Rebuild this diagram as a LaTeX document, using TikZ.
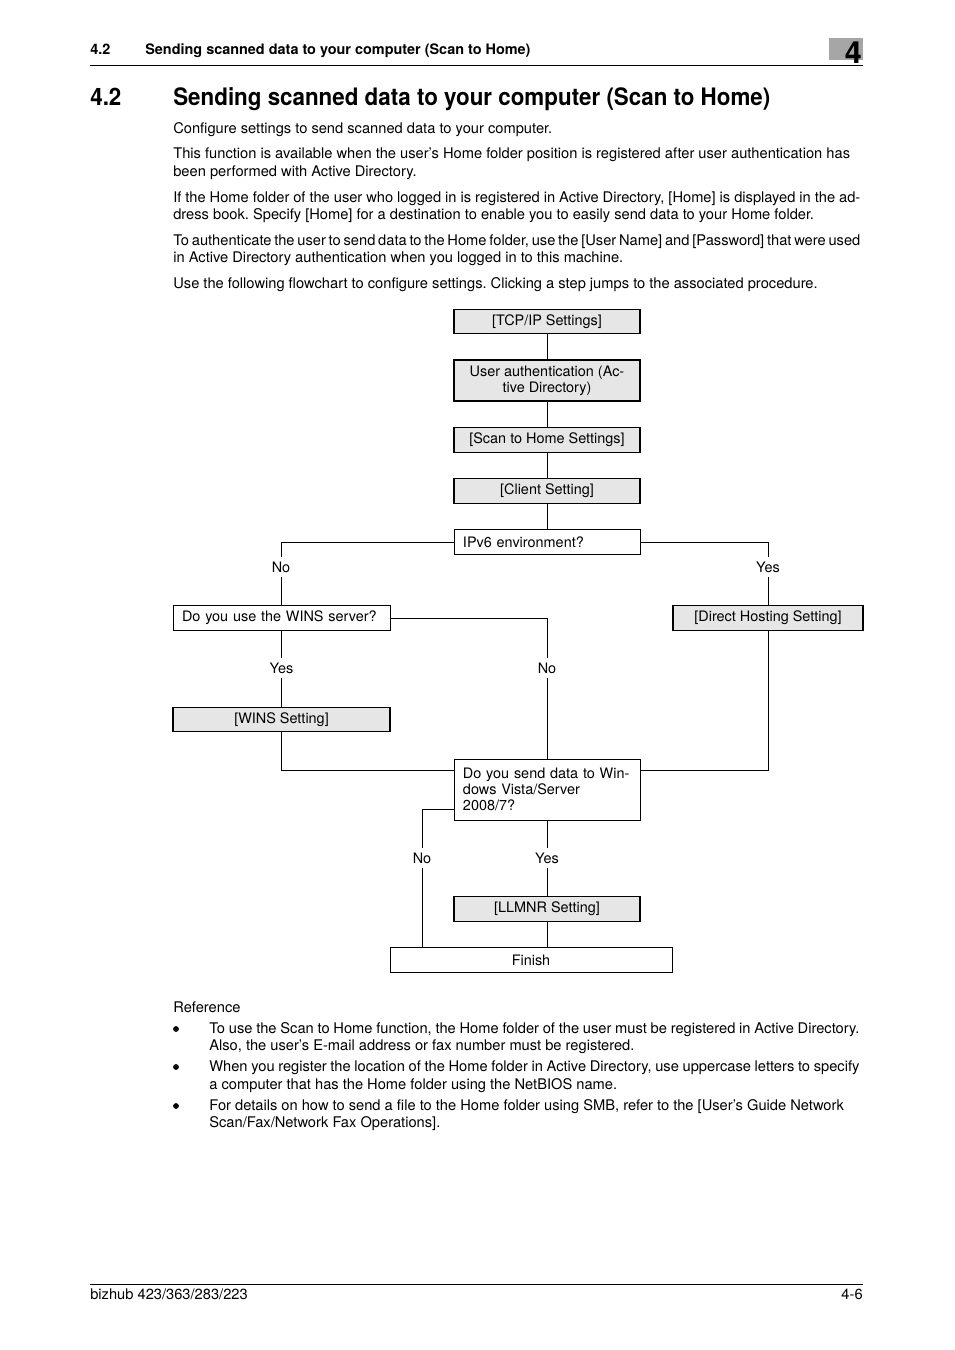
\documentclass[tikz,border=0pt]{standalone}
\usepackage{fontspec}
\setmainfont{TeX Gyre Heros}
\newfontfamily\condfont[FakeStretch=0.93]{TeX Gyre Heros}
\usetikzlibrary{positioning}
\definecolor{boxgray}{RGB}{230,230,230}
\definecolor{tabgray}{RGB}{166,166,166}
\newdimen\pxl \pxl=0.6237pt
\newcommand{\flowsize}{\fontsize{9}{10}\selectfont}
\newcommand{\bodysize}{\fontsize{9.15}{11}\selectfont}
\newcommand{\fullline}[1]{\makebox[428.5pt][s]{#1}}
\newcommand{\fullitem}[1]{\makebox[405.5pt][s]{#1}}
\frenchspacing

\tikzset{
  setting/.style={draw, line width=0.9pt, fill=boxgray, inner sep=0pt, minimum width=116pt, minimum height=15.3pt, font=\flowsize, align=center},
  question/.style={draw, line width=0.5pt, fill=white, inner xsep=5.6pt, inner ysep=0pt, text width=104.8pt, minimum height=15.3pt, font=\flowsize, align=left},
  answer/.style={inner sep=0pt, minimum height=11.9pt, font=\flowsize},
  link/.style={line width=0.5pt},
  bodyline/.style={anchor=base west, inner sep=0pt, font=\bodysize},
  dot/.style={circle, fill, inner sep=0pt, minimum size=3.6pt},
}

\begin{document}
\begin{tikzpicture}[x=\pxl, y=-\pxl]
            \useasboundingbox[fill=white] (0,0) rectangle (954,1350);
            % page head
            \fill[tabgray] (829,38) rectangle (863,60);
            \node[anchor=base east, inner sep=0pt, font=\bfseries\fontsize{19}{19}\selectfont] (chapno) at (862,64) {4};
            \node[anchor=base west, inner sep=0pt, font=\bfseries\fontsize{9}{11}\selectfont] (headno) at (90,55) {4.2};
            \node[anchor=base west, inner sep=0pt, font=\bfseries\fontsize{9}{11}\selectfont] (headtitle) at (145,55) {Sending scanned data to your computer (Scan to Home)};
            \draw[line width=0.6pt] (90,65) -- (863,65);
            \node[anchor=base west, inner sep=0pt, font=\condfont\bfseries\fontsize{15}{18}\selectfont] (secno) at (90,106) {4.2};
            \node[anchor=base west, inner sep=0pt, font=\condfont\bfseries\fontsize{15}{18}\selectfont] (sectitle) at (173,106) {Sending scanned data to your computer (Scan to Home)};
            % intro text
            \node[bodyline] (p1) at (173,134) {Configure settings to send scanned data to your computer.};
            \node[bodyline] (p2a) at (173,159) {This function is available when the user's Home folder position is registered after user authentication has};
            \node[bodyline] (p2b) at (173,177) {been performed with Active Directory.};
            \node[bodyline] (p3a) at (173,203) {\fullline{If the Home folder of the user who logged in is registered in Active Directory, [Home] is displayed in the ad-}};
            \node[bodyline] (p3b) at (173,220) {dress book. Specify [Home] for a destination to enable you to easily send data to your Home folder.};
            \node[bodyline] (p4a) at (173,246) {\fullline{To authenticate the user to send data to the Home folder, use the [User Name] and [Password] that were used}};
            \node[bodyline] (p4b) at (173,263) {in Active Directory authentication when you logged in to this machine.};
            \node[bodyline] (p5) at (173,289) {Use the following flowchart to configure settings. Clicking a step jumps to the associated procedure.};
            % flowchart
            \node[setting] (tcp) at (547,321.5) {[TCP/IP Settings]};
            \node[setting, minimum height=25.6pt] (auth) at (547,380.5) {User authentication (Ac-\\tive Directory)};
            \node[setting] (scanhome) at (547,440) {[Scan to Home Settings]};
            \node[setting] (client) at (547,491) {[Client Setting]};
            \node[question] (ipv6) at (547,542) {IPv6 environment?};
            \node[question, text width=124.1pt] (winsq) at (281.5,618) {Do you use the WINS server?};
            \node[setting, minimum width=118.5pt] (direct) at (768,618) {[Direct Hosting Setting]};
            \node[setting, minimum width=135.3pt] (winset) at (281.5,719.5) {[WINS Setting]};
            \node[question, minimum height=38pt] (win) at (547,789.5) {Do you send data to Win-\\dows Vista/Server\\2008/7?};
            \node[setting] (llmnr) at (547,909) {[LLMNR Setting]};
            \node[question, align=center, text width=164.7pt] (finish) at (531,960) {Finish};
            \node[answer] (noA) at (281,567) {No};
            \node[answer] (yesA) at (768,567) {Yes};
            \node[answer] (noB) at (547,668) {No};
            \node[answer] (yesB) at (281.5,668) {Yes};
            \node[answer] (noC) at (422,858) {No};
            \node[answer] (yesC) at (547,858) {Yes};
            \draw[link] (tcp) -- (auth);
            \draw[link] (auth) -- (scanhome);
            \draw[link] (scanhome) -- (client);
            \draw[link] (client) -- (ipv6);
            \draw[link] (ipv6.west) -| (noA.north);
            \draw[link] (noA.south) -- (noA.south |- winsq.north);
            \draw[link] (ipv6.east) -| (yesA.north);
            \draw[link] (yesA.south) -- (yesA.south |- direct.north);
            \draw[link] (winsq.east) -| (noB.north);
            \draw[link] (noB.south) -- (win.north);
            \draw[link] (winsq.south) -- (yesB.north);
            \draw[link] (yesB.south) -- (winset.north);
            \draw[link] (winset.south) |- ([yshift=-7.5pt]win.north west);
            \draw[link] (direct.south) |- ([yshift=-7.5pt]win.north east);
            \draw[link] ([yshift=6.9pt]win.south west) -| (noC.north);
            \draw[link] (noC.south) -- (noC.south |- finish.north);
            \draw[link] (win.south) -- (yesC.north);
            \draw[link] (yesC.south) -- (llmnr.north);
            \draw[link] (llmnr.south) -- (llmnr.south |- finish.north);
            % reference notes
            \node[bodyline] (refhead) at (173,1012) {Reference};
            \foreach \y/\name in {1029/b1,1067/b2,1106/b3}
              \node[dot] (\name) at (176,\y) {};
            \node[bodyline] (r1a) at (209,1033) {\fullitem{To use the Scan to Home function, the Home folder of the user must be registered in Active Directory.}};
            \node[bodyline] (r1b) at (209,1050) {Also, the user's E-mail address or fax number must be registered.};
            \node[bodyline] (r2a) at (209,1071) {\fullitem{When you register the location of the Home folder in Active Directory, use uppercase letters to specify}};
            \node[bodyline] (r2b) at (209,1089) {a computer that has the Home folder using the NetBIOS name.};
            \node[bodyline] (r3a) at (209,1110) {For details on how to send a file to the Home folder using SMB, refer to the [User's Guide Network};
            \node[bodyline] (r3b) at (209,1127) {Scan/Fax/Network Fax Operations].};
            % page foot
            \draw[line width=0.6pt] (90,1284) -- (863,1284);
            \node[bodyline] (model) at (90,1299) {bizhub 423/363/283/223};
            \node[bodyline, anchor=base east] (pageno) at (863,1299) {4-6};
        \end{tikzpicture}
\end{document}
